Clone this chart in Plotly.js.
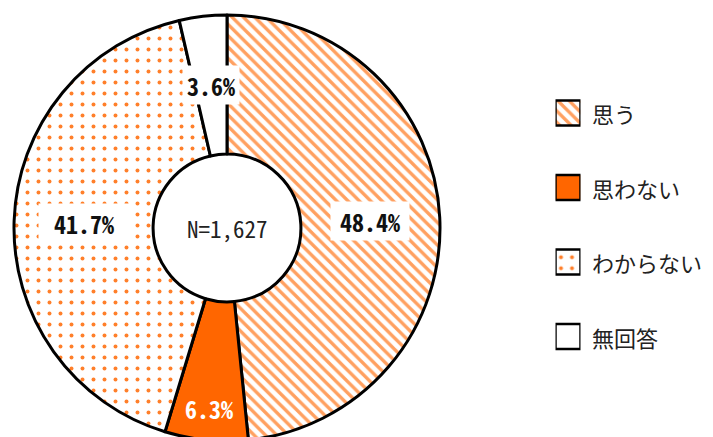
<!DOCTYPE html>
<html>
<head>
<meta charset="utf-8">
<script src="https://cdn.plot.ly/plotly-3.0.1.min.js"></script>
<style>
html, body { margin: 0; padding: 0; overflow: hidden; background: #fff; width: 713px; height: 437px; }
#chart { width: 713px; height: 460px; }
</style>
</head>
<body>
<div id="chart"></div>
<script>
// ---- data ----
const categories = ['思う', '思わない', 'わからない', '無回答'];
const percents = [48.4, 6.3, 41.7, 3.6];
const centerText = 'N=1,627';

// ---- styles / layout constants ----
const W = 713, H = 460;
const pieBox = { l: 14, r: 440, t: 15, b: 441 };
const holeFrac = 0.347;
const fillColors = ['#ffffff', '#ff6600', '#ffffff', '#ffffff'];
const patShapes = ['\\', '', '.', ''];
const patFg = ['#ffa060', '#ff6600', '#ff7f2a', '#ffffff'];
const patSize = [8, 8, 11, 8];
const patSolid = [0.42, 0.3, 0.1, 0.3];
const labelRingPos = [0.5, 0.77, 0.5, 0.5];
const labelFont = ['#111111', '#ffffff', '#111111', '#111111'];
const labelBg = ['#ffffff', 'rgba(0,0,0,0)', '#ffffff', '#ffffff'];
const labelW = [78, 60, 90, 56];
const numFont = '"Noto Sans Mono CJK JP", "DejaVu Sans Mono", monospace';
const jpFont = '"Noto Sans CJK JP", "Noto Sans", sans-serif';

const pie = {
  type: 'pie',
  labels: categories,
  values: percents,
  sort: false,
  direction: 'clockwise',
  rotation: 0,
  hole: holeFrac,
  textinfo: 'none',
  hoverinfo: 'skip',
  showlegend: false,
  domain: { x: [pieBox.l / W, pieBox.r / W], y: [1 - pieBox.b / H, 1 - pieBox.t / H] },
  marker: {
    colors: fillColors, line: { color: '#000000', width: 3 },
    pattern: { shape: patShapes, fgcolor: patFg, bgcolor: fillColors, size: patSize, solidity: patSolid, fillmode: 'replace' }
  }
};

// legend drawn with one bar per category on a hidden axis pair
const legendBars = categories.map((c, i) => ({
  type: 'bar',
  orientation: 'h',
  y: [c],
  x: [1],
  base: 0,
  width: 0.336,
  xaxis: 'x2', yaxis: 'y2',
  hoverinfo: 'skip',
  showlegend: false,
  marker: {
    color: fillColors[i], line: { color: '#000000', width: 2.5 },
    pattern: { shape: patShapes[i], fgcolor: patFg[i], bgcolor: fillColors[i], size: patSize[i], solidity: patSolid[i], fillmode: 'replace' }
  }
}));

// geometry for label positions
const cx = (pieBox.l + pieBox.r) / 2;
const cy = (pieBox.t + pieBox.b) / 2;
const R = Math.min(pieBox.r - pieBox.l, pieBox.b - pieBox.t) / 2;
const Rh = R * holeFrac;
const total = percents.reduce((a, b) => a + b, 0);

const annotations = [];
let cum = 0;
percents.forEach((v, i) => {
  const th = 2 * Math.PI * (cum + v / 2) / total;
  cum += v;
  const r = Rh + labelRingPos[i] * (R - Rh);
  const px = cx + r * Math.sin(th);
  const py = cy - r * Math.cos(th);
  annotations.push({
    xref: 'paper', yref: 'paper',
    x: px / W, y: 1 - py / H,
    xanchor: 'center', yanchor: 'middle',
    text: '<b>' + v.toFixed(1) + '%</b>',
    showarrow: false,
    font: { family: numFont, size: 24, color: labelFont[i] },
    bgcolor: labelBg[i],
    width: labelW[i], height: 38, borderpad: 0
  });
});

annotations.push({
  xref: 'paper', yref: 'paper', x: cx / W, y: 1 - cy / H,
  xanchor: 'center', yanchor: 'middle',
  text: centerText, showarrow: false,
  font: { family: numFont, size: 23, color: '#222222' }
});

categories.forEach((c) => {
  annotations.push({
    xref: 'paper', yref: 'y2', x: 590 / W, y: c,
    xanchor: 'left', yanchor: 'middle',
    text: c, showarrow: false,
    font: { family: jpFont, size: 22, color: '#222222' }
  });
});

const legTop = 113 - 37.25, legBot = 113 + 3 * 74.5 + 37.25;

const layout = {
  width: W, height: H,
  margin: { l: 0, r: 0, t: 0, b: 0 },
  paper_bgcolor: '#ffffff',
  plot_bgcolor: 'rgba(0,0,0,0)',
  showlegend: false,
  barmode: 'overlay',
  xaxis2: { domain: [555.5 / W, 580.5 / W], range: [0, 1], visible: false, fixedrange: true, anchor: 'y2' },
  yaxis2: { domain: [1 - legBot / H, 1 - legTop / H], range: [3.5, -0.5], type: 'category', categoryarray: categories, visible: false, fixedrange: true, anchor: 'x2' },
  annotations: annotations
};

Plotly.newPlot('chart', [pie].concat(legendBars), layout, { staticPlot: true, displayModeBar: false });
</script>
</body>
</html>
